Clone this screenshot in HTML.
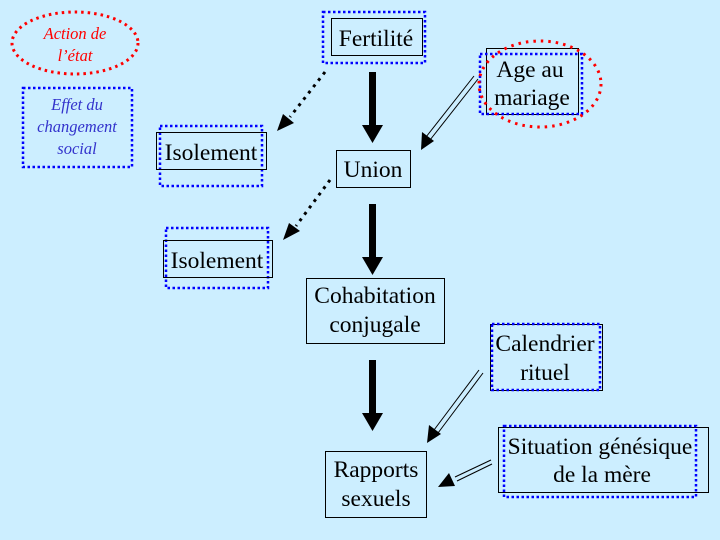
<!DOCTYPE html>
<html><head><meta charset="utf-8"><style>
html,body{margin:0;padding:0;background:#cceeff;}
svg{display:block}
text{font-family:"Liberation Serif",serif;font-size:23.5px;fill:#000;text-anchor:middle}
.it{font-style:italic;font-size:16.5px}
</style></head><body>
<svg width="720" height="540" viewBox="0 0 720 540" xmlns="http://www.w3.org/2000/svg">
<rect width="720" height="540" fill="#cceeff"/>
<g fill="none">
<ellipse cx="75" cy="43" rx="63" ry="31" stroke="#f00" stroke-width="3" stroke-dasharray="2.5 4"/>
<rect x="23" y="88" width="109" height="79" stroke="#00f" stroke-width="2.5" stroke-dasharray="2.5 2.5"/>
<rect x="323" y="12" width="102" height="51" stroke="#00f" stroke-width="2.5" stroke-dasharray="2.5 2.5"/>
<rect x="331.5" y="18.5" width="91" height="37" stroke="#000"/>
<rect x="160" y="126" width="102" height="60" stroke="#00f" stroke-width="2.5" stroke-dasharray="2.5 2.5"/>
<rect x="156.5" y="132.5" width="110" height="37" stroke="#000"/>
<rect x="336.5" y="150.5" width="74" height="37" stroke="#000"/>
<rect x="166" y="228" width="102" height="60" stroke="#00f" stroke-width="2.5" stroke-dasharray="2.5 2.5"/>
<rect x="163.5" y="240.5" width="109" height="37" stroke="#000"/>
<rect x="306.5" y="278.5" width="138" height="65" stroke="#000"/>
<rect x="325.5" y="451.5" width="101" height="66" stroke="#000"/>
<rect x="486.5" y="48.5" width="92" height="66" stroke="#000"/>
<rect x="480" y="54" width="102" height="60" stroke="#00f" stroke-width="2.5" stroke-dasharray="2.5 2.5"/>
<ellipse cx="540" cy="84" rx="61" ry="43" stroke="#f00" stroke-width="3" stroke-dasharray="2.5 5"/>
<rect x="490.5" y="324.5" width="112" height="66" stroke="#000"/>
<rect x="492" y="324" width="108" height="66" stroke="#00f" stroke-width="2.5" stroke-dasharray="2.5 2.5"/>
<rect x="498.5" y="427.5" width="210" height="65" stroke="#000"/>
<rect x="504" y="426" width="192" height="71" stroke="#00f" stroke-width="2.5" stroke-dasharray="2.5 2.5"/>
</g>
<g fill="#000">
<rect x="369" y="72" width="7" height="55"/><path d="M362,125 L383,125 L372.5,143 z"/>
<rect x="369" y="204" width="7" height="55"/><path d="M362,257 L383,257 L372.5,275 z"/>
<rect x="369" y="360" width="7" height="55"/><path d="M362,413 L383,413 L372.5,431 z"/>
</g>
<g stroke="#000" stroke-width="3" stroke-dasharray="3 5" fill="none">
<line x1="325" y1="72" x2="290" y2="117"/>
<line x1="330" y1="180" x2="296" y2="226"/>
</g>
<g fill="#000">
<path d="M277,131 L283,114 L294,123 z"/>
<path d="M283,240 L289,223 L300,231 z"/>
</g>
<g stroke="#000" stroke-width="1" fill="none">
<line x1="474" y1="76" x2="426" y2="137"/><line x1="478" y1="79" x2="430" y2="140"/>
<line x1="479" y1="370" x2="434" y2="430"/><line x1="483" y1="373" x2="438" y2="433"/>
<line x1="491" y1="460" x2="455" y2="477"/><line x1="492" y1="464" x2="457" y2="481"/>
</g>
<g fill="#000">
<path d="M421,150 L422,132 L434,141 z"/>
<path d="M427,443 L429,425 L441,434 z"/>
<path d="M438,487 L449,473 L455,486 z"/>
</g>
<text class="it" x="75" y="39" style="fill:#f00">Action de</text>
<text class="it" x="75" y="61" style="fill:#f00">l’état</text>
<text class="it" x="77" y="110" style="fill:#33c">Effet du</text>
<text class="it" x="77" y="132" style="fill:#33c">changement</text>
<text class="it" x="77" y="154" style="fill:#33c">social</text>
<text x="376" y="46">Fertilité</text>
<text x="211" y="160">Isolement</text>
<text x="373" y="177">Union</text>
<text x="217" y="268">Isolement</text>
<text x="375" y="303">Cohabitation</text>
<text x="375" y="332">conjugale</text>
<text x="376" y="477">Rapports</text>
<text x="376" y="506">sexuels</text>
<text x="530" y="77">Age au</text>
<text x="532" y="105">mariage</text>
<text x="545" y="351">Calendrier</text>
<text x="545" y="380">rituel</text>
<text x="600" y="454">Situation génésique</text>
<text x="602" y="482">de la mère</text>
</svg>
</body></html>
